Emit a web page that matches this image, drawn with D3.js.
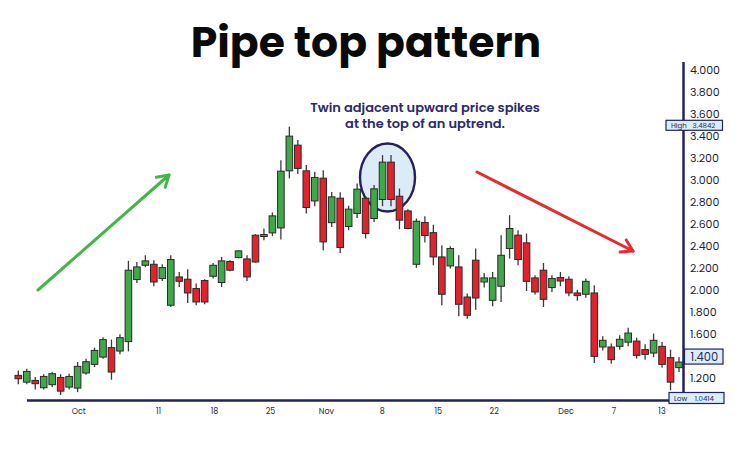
<!DOCTYPE html>
<html><head><meta charset="utf-8">
<script src="https://cdn.jsdelivr.net/npm/d3@7/dist/d3.min.js"></script>
<style>body{margin:0;background:#fff;}svg{display:block;}</style>
</head><body><svg id="c" width="735" height="452"></svg>
<script>
// OHLC values
const opens  = [1.220,1.158,1.174,1.107,1.135,1.201,1.113,1.104,1.241,1.320,1.386,1.472,1.441,1.527,2.092,2.222,2.231,2.101,1.858,2.116,2.095,2.010,2.083,2.122,2.065,2.256,2.292,2.280,2.496,2.484,2.517,2.562,3.082,3.316,3.082,2.808,3.015,2.610,2.833,2.575,2.694,2.833,2.648,2.821,3.161,2.851,2.717,2.231,2.612,2.519,2.298,2.216,2.207,1.933,2.268,2.070,1.903,2.031,2.375,2.496,2.426,2.107,2.177,2.019,2.110,2.095,1.970,1.958,1.970,1.478,1.478,1.484,1.522,1.532,1.454,1.423,1.484,1.381,1.290];
const highs  = [1.265,1.281,1.204,1.229,1.250,1.229,1.235,1.341,1.372,1.472,1.566,1.545,1.593,2.262,2.252,2.313,2.268,2.231,2.313,2.161,2.186,2.055,2.095,2.243,2.298,2.268,2.359,2.313,2.505,2.557,2.703,3.179,3.4842,3.362,3.134,3.073,3.088,2.890,2.888,2.763,2.967,2.851,2.952,3.225,3.225,2.921,2.733,2.648,2.669,2.591,2.405,2.396,2.313,1.964,2.375,2.152,2.161,2.496,2.678,2.541,2.511,2.131,2.243,2.131,2.161,2.122,1.999,2.101,2.040,1.575,1.509,1.584,1.654,1.563,1.502,1.600,1.523,1.454,1.386];
const lows   = [1.138,1.138,1.092,1.092,1.113,1.0414,1.092,1.067,1.226,1.295,1.371,1.180,1.411,1.438,2.061,2.204,2.031,2.079,1.842,2.024,1.879,1.858,1.867,2.101,2.024,2.168,2.286,2.079,2.245,2.450,2.487,2.457,3.013,3.052,2.694,2.760,2.359,2.571,2.334,2.541,2.653,2.466,2.617,2.760,2.760,2.550,2.550,2.198,2.429,2.222,1.858,2.192,1.757,1.736,1.818,2.019,1.849,1.888,2.283,2.222,1.988,1.955,1.842,1.979,2.031,1.940,1.899,1.926,1.332,1.447,1.326,1.454,1.484,1.372,1.363,1.386,1.290,1.083,1.250];
const closes = [1.189,1.256,1.144,1.210,1.235,1.076,1.210,1.302,1.344,1.447,1.545,1.250,1.563,2.177,2.207,2.262,2.070,2.201,2.274,2.076,1.970,1.888,1.888,2.222,2.262,2.177,2.353,2.116,2.252,2.502,2.672,3.079,3.398,3.104,2.748,3.022,2.435,2.845,2.384,2.733,2.915,2.511,2.918,3.161,2.821,2.633,2.557,2.623,2.493,2.298,1.958,2.375,1.867,1.767,1.924,2.107,2.107,2.313,2.557,2.274,2.076,1.979,1.912,2.101,2.079,1.970,1.946,2.076,1.393,1.539,1.363,1.548,1.605,1.402,1.411,1.539,1.320,1.158,1.341];

const tickDates  = ["2021-10-01","2021-10-11","2021-10-18","2021-10-25","2021-11-01","2021-11-08","2021-11-15","2021-11-22","2021-12-01","2021-12-07","2021-12-13"];
const tickLabels = ["Oct","11","18","25","Nov","8","15","22","Dec","7","13"];
const yTicks = [1.2,1.6,1.8,2.0,2.2,2.4,2.6,2.8,3.0,3.2,3.4,3.6,3.8,4.0];
const highValue = 3.4842, lowValue = 1.0414, lastPrice = 1.400;

const navy = "#24215f", green = "#3fa849", red = "#e3222b", ink = "#2b2a2a";
const svg = d3.select("#c");
const font = "Poppins, Inter, 'Open Sans', sans-serif";

const y = d3.scaleLinear().domain([1.0, 4.07]).range([399.5, 62.3]);
const x = d3.scaleLinear().domain([0, opens.length - 1]).range([18.3, 679]);
const parse = d3.utcParse("%Y-%m-%d");
const xt = d3.scaleUtc().domain([parse("2021-10-01"), parse("2021-12-13")]).range([78.7, 662]);

// title
svg.append("text").attr("x", 366).attr("y", 57).attr("text-anchor", "middle")
  .attr("font-family", font).attr("font-weight", 700).attr("font-size", 42.5)
  .attr("fill", "#0a0a0a").text("Pipe top pattern");

// annotation
const ann = svg.append("text").attr("text-anchor", "middle").attr("font-family", font)
  .attr("font-weight", 600).attr("font-size", 13).attr("fill", "#2b2a6b");
ann.append("tspan").attr("x", 425).attr("y", 112).text("Twin adjacent upward price spikes");
ann.append("tspan").attr("x", 425).attr("y", 128).text("at the top of an uptrend.");

// highlight ellipse
svg.append("ellipse").attr("cx", 387.5).attr("cy", 177.5).attr("rx", 27.5).attr("ry", 34)
  .attr("fill", "#dcebf8").attr("stroke", navy).attr("stroke-width", 2.4);

// arrows
function arrow(x1, y1, x2, y2, color) {
  const g = svg.append("g").attr("stroke", color).attr("stroke-width", 3).attr("fill", "none").attr("stroke-linecap", "round");
  g.append("line").attr("x1", x1).attr("y1", y1).attr("x2", x2).attr("y2", y2);
  const a = Math.atan2(y2 - y1, x2 - x1), L = 13, s = 0.55;
  g.append("polyline").attr("stroke-linejoin", "round").attr("points", [
    [x2 - L * Math.cos(a - s), y2 - L * Math.sin(a - s)], [x2, y2],
    [x2 - L * Math.cos(a + s), y2 - L * Math.sin(a + s)]].map(p => p.join(",")).join(" "));
}
arrow(38, 290, 169, 175, "#44b649");
arrow(477, 172, 633, 251, "#e52a30");

// candles
const bw = 6.6;
const cg = svg.append("g");
opens.forEach((o, i) => {
  const c = closes[i], up = c >= o, cx = x(i);
  cg.append("line").attr("x1", cx).attr("x2", cx).attr("y1", y(highs[i])).attr("y2", y(lows[i]))
    .attr("stroke", "#3a3a3a").attr("stroke-width", 1.3);
  const top = y(Math.max(o, c)), bot = y(Math.min(o, c));
  cg.append("rect").attr("x", cx - bw / 2).attr("y", top).attr("width", bw).attr("height", Math.max(1.5, bot - top))
    .attr("fill", up ? green : red).attr("stroke", ink).attr("stroke-width", 1);
});

// axes lines
svg.append("line").attr("x1", 27).attr("x2", 684).attr("y1", 400.5).attr("y2", 400.5).attr("stroke", navy).attr("stroke-width", 2.5);
svg.append("line").attr("x1", 683.5).attr("x2", 683.5).attr("y1", 62).attr("y2", 401.5).attr("stroke", navy).attr("stroke-width", 2.5);

// y tick labels
svg.append("g").selectAll("text").data(yTicks).join("text")
  .attr("x", 690).attr("y", d => y(d) + 4).attr("font-family", font).attr("font-size", 11)
  .attr("fill", "#1d1d3d").text(d => d3.format(".3f")(d));

// x tick labels
svg.append("g").selectAll("text").data(tickDates).join("text")
  .attr("x", d => xt(parse(d))).attr("y", 414).attr("text-anchor", "middle")
  .attr("font-family", font).attr("font-size", 8).attr("fill", "#2a2a45")
  .text((d, i) => tickLabels[i]);

// tags
function tag(x0, x1, cy, h, label, value, fs) {
  const g = svg.append("g");
  g.append("rect").attr("x", x0).attr("y", cy - h / 2).attr("width", x1 - x0).attr("height", h)
    .attr("fill", "#d9edfb").attr("stroke", navy).attr("stroke-width", 1.2);
  const t = g.append("text").attr("y", cy + fs * 0.36).attr("font-family", font).attr("font-size", fs).attr("fill", "#2a2a55");
  if (label) {
    t.append("tspan").attr("x", x0 + 5).text(label);
    t.append("tspan").attr("x", x0 + (x1 - x0) * 0.47).text(value);
  } else {
    t.attr("x", x0 + 6).text(value);
  }
}
tag(666, 722.5, 125.3, 10, "High", d3.format(".4f")(highValue), 7);
tag(684.5, 723, y(lastPrice) + 1, 15, null, d3.format(".3f")(lastPrice), 11.5);
tag(669, 724, 398, 11, "Low", d3.format(".4f")(lowValue), 7);
</script></body></html>
